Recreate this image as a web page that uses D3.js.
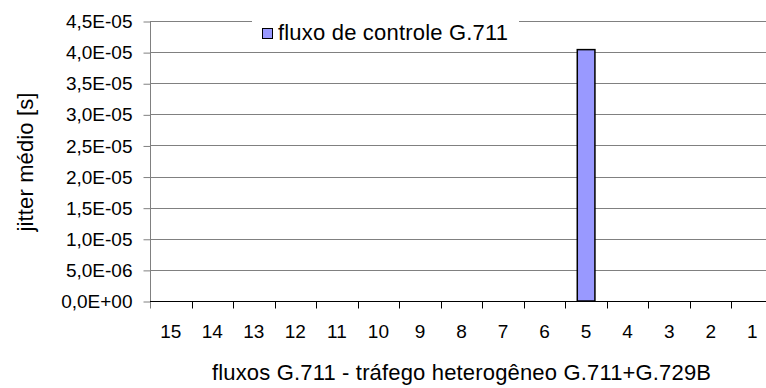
<!DOCTYPE html>
<html>
<head>
<meta charset="utf-8">
<script src="https://cdn.jsdelivr.net/npm/d3@7"></script>
<style>
  html, body { margin: 0; padding: 0; background: #fff; overflow: hidden; }
  svg { display: block; font-family: "Liberation Sans", Arial, sans-serif; }
</style>
</head>
<body>
<svg id="chart" width="766" height="388"></svg>
<script>
// Categories (flow index, shown from 15 down to 1)
const categories = ["15", "14", "13", "12", "11", "10", "9", "8", "7", "6", "5", "4", "3", "2", "1"];
// Mean jitter [s] of the G.711 control flow; only flow 5 carries it
const jitterValues = [null, null, null, null, null, null, null, null, null, null, 4.04e-5, null, null, null, null];
// Y tick values
const yTicks = [0, 5e-6, 1e-5, 1.5e-5, 2e-5, 2.5e-5, 3e-5, 3.5e-5, 4e-5, 4.5e-5];
const seriesName = "fluxo de controle G.711";
const xTitle = "fluxos G.711 - tráfego heterogêneo G.711+G.729B";
const yTitle = "jitter médio [s]";

const svg = d3.select("#chart");
const plotLeft = 150, plotRight = 773, plotTop = 21, plotBottom = 301;
const tickFont = "19px";
const titleFont = "22px";

const x = d3.scaleBand().domain(categories).range([plotLeft, plotRight]).paddingInner(0.575).paddingOuter(0.2875);
const y = d3.scaleLinear().domain([0, 4.5e-5]).range([plotBottom, plotTop]);

// Scientific format with comma decimal separator, e.g. 4,5E-05
function sci(v) {
  const s = v.toExponential(1);
  let [m, e] = s.split("e");
  const sign = e[0] === "-" ? "-" : "+";
  const ex = Math.abs(+e).toString().padStart(2, "0");
  return m.replace(".", ",") + "E" + sign + ex;
}

// Horizontal gridlines
svg.append("g")
  .selectAll("line")
  .data(yTicks.filter(d => d > 0))
  .join("line")
  .attr("x1", plotLeft).attr("x2", 766)
  .attr("y1", d => Math.round(y(d)) + 0.5).attr("y2", d => Math.round(y(d)) + 0.5)
  .attr("stroke", "#808080").attr("stroke-width", 1);

// Y axis
const yAxis = svg.append("g")
  .attr("transform", `translate(${plotLeft + 0.5},0.5)`)
  .call(d3.axisLeft(y).tickValues(yTicks).tickFormat(sci).tickSize(7).tickPadding(11));
yAxis.select(".domain").attr("stroke", "#808080").attr("d", `M0,${plotTop}V${plotBottom + 7}`);
yAxis.selectAll(".tick line").attr("stroke", "#808080");
yAxis.selectAll(".tick text").attr("font-size", tickFont).attr("fill", "#000")
  .attr("font-family", "Liberation Sans, Arial, sans-serif");

// X axis with ticks at category boundaries
const xAxisG = svg.append("g").attr("transform", `translate(0,${Math.round(plotBottom) + 0.5})`);
xAxisG.append("line").attr("x1", plotLeft).attr("x2", 766).attr("stroke", "#000");
const bounds = categories.map(c => x(c) - x.step() * x.paddingInner() / 2).concat([plotRight]);
xAxisG.selectAll("line.tk").data(bounds.slice(1)).join("line").attr("class", "tk")
  .attr("x1", d => Math.round(d) + 0.5).attr("x2", d => Math.round(d) + 0.5)
  .attr("y1", 0).attr("y2", 7).attr("stroke", "#000");
xAxisG.selectAll("text").data(categories).join("text")
  .attr("x", d => x(d) + x.bandwidth() / 2)
  .attr("y", 36.5)
  .attr("text-anchor", "middle")
  .attr("font-size", tickFont)
  .text(d => d);

// Legend (white box interrupting the top gridline)
const legend = svg.append("g");
legend.append("rect").attr("x", 252).attr("y", 12).attr("width", 267).attr("height", 36).attr("fill", "#fff");
legend.append("rect").attr("x", 262.5).attr("y", 28.5).attr("width", 10).attr("height", 10)
  .attr("fill", "#9999FF").attr("stroke", "#000").attr("stroke-width", 1);
legend.append("text").attr("x", 278).attr("y", 40).attr("font-size", titleFont)
  .attr("textLength", 230).attr("lengthAdjust", "spacing").text(seriesName);

// Bars
svg.append("g")
  .selectAll("rect")
  .data(categories.map((c, i) => ({ c, v: jitterValues[i] })).filter(d => d.v != null))
  .join("rect")
  .attr("x", d => x(d.c))
  .attr("y", d => y(d.v))
  .attr("width", x.bandwidth())
  .attr("height", d => y(0) - y(d.v))
  .attr("fill", "#9999FF")
  .attr("stroke", "#000")
  .attr("stroke-width", 1.5);

// Axis titles
svg.append("text").attr("x", 212).attr("y", 380)
  .attr("font-size", titleFont).attr("textLength", 499).attr("lengthAdjust", "spacing").text(xTitle);
svg.append("text").attr("transform", `translate(32.5,${(plotTop + plotBottom) / 2 + 1}) rotate(-90)`)
  .attr("text-anchor", "middle").attr("font-size", titleFont)
  .attr("textLength", 139).attr("lengthAdjust", "spacing").text(yTitle);
</script>
</body>
</html>
